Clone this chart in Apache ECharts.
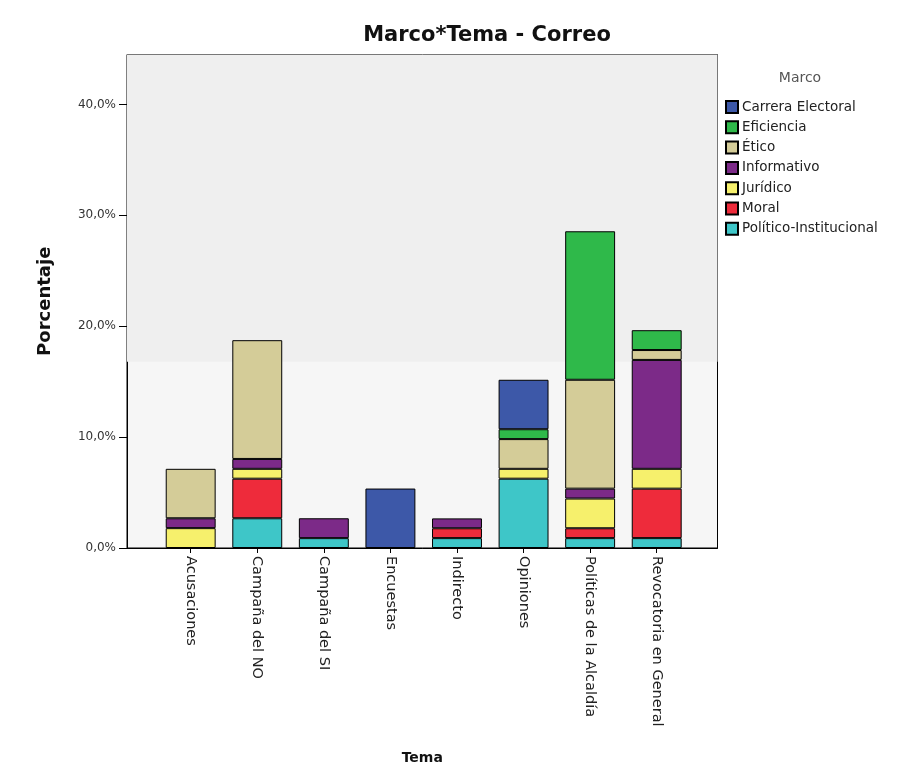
<!DOCTYPE html>
<html>
<head>
<meta charset="utf-8">
<script src="https://cdn.jsdelivr.net/npm/echarts@6/dist/echarts.min.js"></script>
<style>html,body{margin:0;padding:0;background:#fff;}#c{width:902px;height:767px;}</style>
</head>
<body>
<div id="c"></div>
<script>
// Categories (Tema)
const categories = ['Acusaciones','Campaña del NO','Campaña del SI','Encuestas','Indirecto','Opiniones','Políticas de la Alcaldía','Revocatoria en General'];
// Series values (percent of total), stacked bottom -> top
const politicoInstitucional = [0, 2.68, 0.89, 0, 0.89, 6.25, 0.89, 0.89];
const moral                 = [0, 3.57, 0, 0, 0.89, 0, 0.89, 4.46];
const juridico              = [1.79, 0.89, 0, 0, 0, 0.89, 2.68, 1.79];
const informativo           = [0.89, 0.89, 1.79, 0, 0.89, 0, 0.89, 9.82];
const etico                 = [4.46, 10.71, 0, 0, 0, 2.68, 9.82, 0.89];
const eficiencia            = [0, 0, 0, 0, 0, 0.89, 13.39, 1.79];
const carreraElectoral      = [0, 0, 0, 5.36, 0, 4.46, 0, 0];
// Tick values
const yTicks = [0, 10, 20, 30, 40];
const yMax = 44.5;
const bandStart = 16.8;

const seriesDefs = [
  {name:'Político-Institucional', data: politicoInstitucional, color:'#3ec6c8'},
  {name:'Moral', data: moral, color:'#ee2b3b'},
  {name:'Jurídico', data: juridico, color:'#f6f06c'},
  {name:'Informativo', data: informativo, color:'#7c2a88'},
  {name:'Ético', data: etico, color:'#d4cc98'},
  {name:'Eficiencia', data: eficiencia, color:'#2fb94a'},
  {name:'Carrera Electoral', data: carreraElectoral, color:'#3d58a8'}
];
const FONT = '"DejaVu Sans", Verdana, sans-serif';

const chart = echarts.init(document.getElementById('c'), null, {renderer:'canvas'});
const series = seriesDefs.map(s => ({
  name: s.name, type: 'bar', stack: 'total', xAxisIndex: 1, yAxisIndex: 1,
  data: s.data.map(v => (v === 0 ? null : v)), barWidth: '75%',
  itemStyle: {color: s.color, borderColor: '#000', borderWidth: 1},
  emphasis: {disabled: true}, animation: false
}));
series.unshift({
  type: 'line', xAxisIndex: 0, yAxisIndex: 0, data: [], silent: true, animation: false,
  markArea: {silent: true, itemStyle: {color: '#efefef'}, data: [[{yAxis: bandStart}, {yAxis: yMax}]]}
});

chart.setOption({
  animation: false,
  backgroundColor: '#ffffff',
  title: [
    {text: 'Marco*Tema - Correo', left: 482, top: 20, textAlign: 'center',
     textStyle: {fontFamily: FONT, fontSize: 21, fontWeight: 'bold', color: '#111'}},
    {text: 'Marco', left: 795, top: 66, textAlign: 'center',
     textStyle: {fontFamily: FONT, fontSize: 14, fontWeight: 'normal', color: '#555'}}
  ],
  legend: {
    orient: 'vertical', left: 720, top: 95, itemWidth: 12, itemHeight: 12, itemGap: 6.3,
    icon: 'rect', selectedMode: false,
    data: seriesDefs.map(s => s.name).reverse(),
    textStyle: {fontFamily: FONT, fontSize: 13.5, lineHeight: 14, color: '#222', padding: [0,0,0,-1]}
  },
  grid: [
    {left: 127, top: 54.5, width: 590.5, height: 493.5, show: true, borderColor: '#000', borderWidth: 1,
     backgroundColor: '#f6f6f6', outerBoundsMode: 'none', containLabel: false},
    {left: 157.4, top: 54.5, width: 532.6, height: 493.5, outerBoundsMode: 'none', containLabel: false}
  ],
  xAxis: [
    {type: 'category', gridIndex: 0, data: [''], axisLine: {show: true, lineStyle: {color: '#000'}},
     axisTick: {show: false}, axisLabel: {show: false},
     name: 'Tema', nameLocation: 'middle', nameGap: 203,
     nameTextStyle: {fontFamily: FONT, fontSize: 14, fontWeight: 'bold', color: '#111'}},
    {type: 'category', gridIndex: 1, data: categories,
     axisLine: {show: false}, axisTick: {show: true, alignWithLabel: true, length: 5, lineStyle: {color: '#000'}},
     axisLabel: {rotate: -90, margin: 8, fontFamily: FONT, fontSize: 14.5, color: '#222', interval: 0}}
  ],
  yAxis: [
    {type: 'value', gridIndex: 0, min: 0, max: yMax, interval: 10,
     axisLine: {show: true, lineStyle: {color: '#000'}},
     axisTick: {show: true, length: 8, lineStyle: {color: '#000'},
                customValues: yTicks},
     axisLabel: {fontFamily: FONT, fontSize: 12, color: '#333', margin: 11,
                 customValues: yTicks,
                 formatter: v => (yTicks.indexOf(v) >= 0 ? v.toFixed(1).replace('.', ',') + '%' : '')},
     splitLine: {show: false},
     name: 'Porcentaje', nameLocation: 'middle', nameGap: 73, nameRotate: 90,
     nameTextStyle: {fontFamily: FONT, fontSize: 18, fontWeight: 'bold', color: '#111'}},
    {type: 'value', gridIndex: 1, min: 0, max: yMax, show: false, splitLine: {show: false}}
  ],
  series: series
});
</script>
</body>
</html>
